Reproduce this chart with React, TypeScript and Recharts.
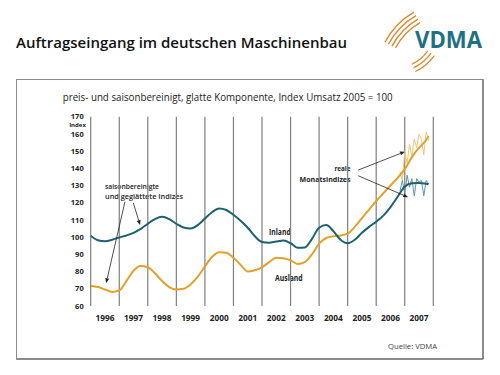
import React from 'react';
import { LineChart, Line, XAxis, YAxis, ReferenceLine } from 'recharts';

// year bands along the x axis
const years = ['1996', '1997', '1998', '1999', '2000', '2001', '2002', '2003', '2004', '2005', '2006', '2007'];
const yTicks = [60, 70, 80, 90, 100, 110, 120, 130, 140, 150, 160, 170];

// smoothed components (quarterly readings)
const quarters = [
  '1996-01', '1996-04', '1996-07', '1996-10',
  '1997-01', '1997-04', '1997-07', '1997-10',
  '1998-01', '1998-04', '1998-07', '1998-10',
  '1999-01', '1999-04', '1999-07', '1999-10',
  '2000-01', '2000-04', '2000-07', '2000-10',
  '2001-01', '2001-04', '2001-07', '2001-10',
  '2002-01', '2002-04', '2002-07', '2002-10',
  '2003-01', '2003-04', '2003-07', '2003-10',
  '2004-01', '2004-04', '2004-07', '2004-10',
  '2005-01', '2005-04', '2005-07', '2005-10',
  '2006-01', '2006-04', '2006-07', '2006-10',
  '2007-01', '2007-04', '2007-07', '2007-10', '2007-11',
];
const inlandSmooth = [
  100.8, 98.2, 97.6, 98.5,
  99.8, 101.0, 102.5, 104.8,
  107.8, 110.5, 111.8, 110.5,
  107.8, 105.6, 105.0, 107.0,
  110.8, 114.5, 116.7, 115.8,
  113.0, 109.5, 105.5, 100.5,
  97.2, 96.8, 97.5, 98.0,
  96.5, 93.8, 94.0, 99.0,
  105.5, 107.0, 103.5, 98.5,
  96.5, 98.5, 102.5, 106.0,
  109.0, 112.5, 117.5, 123.5,
  129.5, 131.3, 131.5, 131.0, 130.7,
];
const auslandSmooth = [
  71.6, 71.0, 69.6, 68.2,
  69.0, 74.5, 80.5, 83.2,
  82.5, 79.0, 74.5, 71.0,
  69.6, 70.0, 72.5, 77.0,
  83.0, 88.5, 91.3, 91.0,
  88.0, 84.0, 80.0, 80.8,
  82.5, 85.5, 88.0, 87.8,
  86.5, 84.4, 85.5, 90.0,
  96.2, 99.5, 100.5, 101.0,
  102.0, 106.0, 111.0, 116.0,
  121.0, 125.5, 130.0, 134.5,
  139.5, 146.5, 152.0, 156.5, 158.8,
];

// real monthly indices
const months = [
  '2006-11', '2006-12', '2007-01', '2007-02', '2007-03', '2007-04', '2007-05',
  '2007-06', '2007-07', '2007-08', '2007-09', '2007-10', '2007-11',
];
const inlandMonthly = [127, 133, 125, 136, 129, 134, 124, 134, 132, 133, 124, 133, 131];
const auslandMonthly = [138, 133, 150, 143, 154, 147, 157, 152, 160, 157, 148, 161, 156];

const toYear = (s: string) => {
  const [y, m] = s.split('-').map(Number);
  return y + (m - 1) / 12;
};

const smoothData = quarters.map((q, i) => ({ t: toYear(q), inland: inlandSmooth[i], ausland: auslandSmooth[i] }));
const monthlyData = months.map((m, i) => ({ t: toYear(m), inland: inlandMonthly[i], ausland: auslandMonthly[i] }));

const gridYears = [...years.map(Number), 2008];
const labelTicks = years.map(y => Number(y) + 0.5);

// annotation arrows in data coordinates
const arrows = [
  { from: { x: 1997.2, y: 120.6 }, to: { x: 1996.54, y: 73.2 } },
  { from: { x: 1997.49, y: 120.0 }, to: { x: 1997.73, y: 107.0 } },
  { from: { x: 2005.37, y: 139.0 }, to: { x: 2007.01, y: 149.7 } },
  { from: { x: 2005.37, y: 135.7 }, to: { x: 2007.12, y: 123.2 } },
];

const TEAL = '#1d6170';
const ORANGE = '#e2a22a';
const FONT = '"Open Sans", sans-serif';

const Arrow = (props: any) => {
  const { x1, y1, x2, y2 } = props;
  const a = Math.atan2(y2 - y1, x2 - x1);
  const len = 5;
  const w = 2;
  const bx = x2 - len * Math.cos(a);
  const by = y2 - len * Math.sin(a);
  const pts = `${x2},${y2} ${bx + w * Math.sin(a)},${by - w * Math.cos(a)} ${bx - w * Math.sin(a)},${by + w * Math.cos(a)}`;
  return (
    <g>
      <line x1={x1} y1={y1} x2={bx} y2={by} stroke="#222" strokeWidth={0.8} />
      <polygon points={pts} fill="#222" />
    </g>
  );
};

const arc = (cx: number, cy: number, r: number, a0: number, a1: number) => {
  const d = Math.PI / 180;
  const p0 = [cx + r * Math.cos(a0 * d), cy + r * Math.sin(a0 * d)];
  const p1 = [cx + r * Math.cos(a1 * d), cy + r * Math.sin(a1 * d)];
  return `M${p0[0]},${p0[1]} A${r},${r} 0 0 1 ${p1[0]},${p1[1]}`;
};

const App = () => {
  return (
    <div style={{ position: 'absolute', left: 0, top: 0, width: 500, height: 375, background: '#fff', fontFamily: FONT }}>
      <svg width={500} height={375} style={{ position: 'absolute', left: 0, top: 0 }}>
        <text x={16} y={47.5} fontSize={15} fontWeight={600} fill="#111" textLength={331} lengthAdjust="spacingAndGlyphs">
          Auftragseingang im deutschen Maschinenbau
        </text>
        {[62, 66, 70, 74].map(r => (
          <path key={r} d={arc(452, 78, r + 2, 208, 240)} stroke="#d98a2b" strokeWidth={1.3} fill="none" />
        ))}
        {[40, 44, 48].map(r => (
          <path key={r} d={arc(395, 28, r, 35, 65)} stroke="#d98a2b" strokeWidth={1.3} fill="none" />
        ))}
        <text x={415} y={48.3} fontSize={23} fontWeight={700} fill="#1f7083" textLength={67} lengthAdjust="spacingAndGlyphs">
          VDMA
        </text>
        <rect x={16.5} y={79.5} width={466.5} height={279.5} fill="none" stroke="#8c8c8c" strokeWidth={1} />
        <line x1={483} y1={79.5} x2={483} y2={359} stroke="#777" strokeWidth={1.5} />
        <line x1={16.5} y1={359} x2={483} y2={359} stroke="#777" strokeWidth={1.5} />
        <text x={62.7} y={101} fontSize={10} fill="#222" textLength={330} lengthAdjust="spacingAndGlyphs">
          preis- und saisonbereinigt, glatte Komponente, Index Umsatz 2005 = 100
        </text>
        <text x={77.5} y={127} fontSize={6} fontWeight={700} fill="#222" textAnchor="middle">
          Index
        </text>
        <text x={105} y={188.5} fontSize={7.5} fontWeight={600} fill="#222" textLength={54} lengthAdjust="spacingAndGlyphs">
          saisonbereinigte
        </text>
        <text x={105} y={198.8} fontSize={7.5} fontWeight={600} fill="#222" textLength={78} lengthAdjust="spacingAndGlyphs">
          und geglättete Indizes
        </text>
        <text x={334.5} y={171} fontSize={7.5} fontWeight={700} fill="#222" textLength={16} lengthAdjust="spacingAndGlyphs">
          reale
        </text>
        <text x={299.5} y={181.5} fontSize={7.5} fontWeight={700} fill="#222" textLength={51} lengthAdjust="spacingAndGlyphs">
          Monatsindizes
        </text>
        <text x={269} y={234.5} fontSize={8.5} fontWeight={700} fill="#222" textLength={21.7} lengthAdjust="spacingAndGlyphs">
          Inland
        </text>
        <text x={275} y={280.5} fontSize={8.5} fontWeight={700} fill="#222" textLength={27.7} lengthAdjust="spacingAndGlyphs">
          Ausland
        </text>
        <text x={388} y={348.5} fontSize={7.5} fill="#444" textLength={49} lengthAdjust="spacingAndGlyphs">
          Quelle: VDMA
        </text>
      </svg>
      <div style={{ position: 'absolute', left: 0, top: 0 }}>
        <LineChart
          width={500}
          height={375}
          data={smoothData}
          margin={{ top: 116.7, right: 66.7, left: 0, bottom: 49 }}
        >
          <XAxis
            dataKey="t"
            type="number"
            domain={[1996, 2008]}
            ticks={labelTicks}
            tickFormatter={(v: number) => String(Math.floor(v))}
            axisLine={false}
            tickLine={false}
            tickSize={0}
            tickMargin={9}
            height={20}
            interval={0}
            allowDataOverflow
            tick={{ fontSize: 8.3, fontWeight: 700, fill: '#222', fontFamily: FONT }}
          />
          <YAxis
            type="number"
            domain={[60, 170]}
            ticks={yTicks}
            axisLine={false}
            tickLine={false}
            tickSize={0}
            tickMargin={7}
            width={90.7}
            interval={0}
            allowDataOverflow
            tick={{ fontSize: 7.5, fontWeight: 700, fill: '#222', fontFamily: FONT }}
          />
          {gridYears.map(y => (
            <ReferenceLine key={y} x={y} stroke="#7f7f7f" strokeWidth={1.2} ifOverflow="visible" />
          ))}
          <Line data={monthlyData} dataKey="ausland" type="linear" stroke="#ecc87a" strokeWidth={1} dot={false} isAnimationActive={false} />
          <Line data={monthlyData} dataKey="inland" type="linear" stroke="#5e97a3" strokeWidth={1} dot={false} isAnimationActive={false} />
          <Line dataKey="ausland" type="monotone" stroke={ORANGE} strokeWidth={2} dot={false} isAnimationActive={false} />
          <Line dataKey="inland" type="monotone" stroke={TEAL} strokeWidth={2} dot={false} isAnimationActive={false} />
          {arrows.map((a, i) => (
            <ReferenceLine key={i} segment={[a.from, a.to]} shape={Arrow} ifOverflow="visible" />
          ))}
        </LineChart>
      </div>
    </div>
  );
};

export default App;
